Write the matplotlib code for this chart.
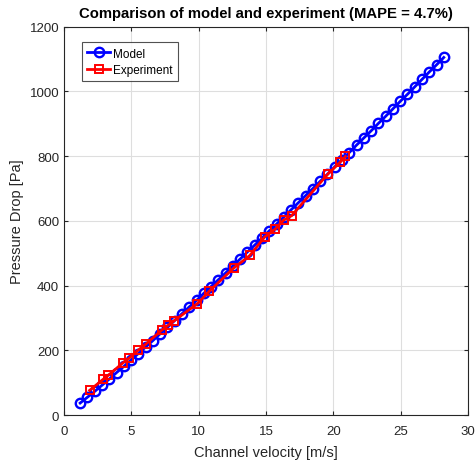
import matplotlib
matplotlib.use("Agg")
from matplotlib import pyplot as plt

# model curve
model_v = [1.20, 1.74, 2.28, 2.82, 3.36, 3.90, 4.44, 4.98, 5.52, 6.06,
           6.60, 7.14, 7.68, 8.22, 8.76, 9.30, 9.84, 10.38, 10.92, 11.46,
           12.00, 12.54, 13.08, 13.62, 14.16, 14.70, 15.24, 15.78, 16.32, 16.86,
           17.40, 17.94, 18.48, 19.02, 19.56, 20.10, 20.64, 21.18, 21.72, 22.26,
           22.80, 23.34, 23.88, 24.42, 24.96, 25.50, 26.04, 26.58, 27.12, 27.66,
           28.20]
model_dp = [37, 55, 73, 92, 111, 131, 150, 170, 190, 210,
            230, 251, 271, 292, 313, 334, 354, 376, 397, 418,
            439, 461, 482, 504, 525, 547, 569, 590, 612, 634,
            656, 678, 700, 722, 744, 767, 789, 811, 834, 856,
            878, 901, 923, 946, 969, 991, 1014, 1037, 1060, 1082,
            1105]

# measured points
exp_v = [1.9, 2.9, 3.3, 4.4, 4.85, 5.5, 6.1, 7.25, 7.75, 8.2, 9.9,
         10.8, 12.6, 13.8, 14.9, 15.7, 16.3, 16.9, 19.6, 20.5, 20.9]
exp_dp = [76, 110, 123, 162, 176, 200, 220, 262, 278, 292, 344,
          383, 454, 493, 550, 575, 602, 616, 745, 781, 799]

xticks = [0, 5, 10, 15, 20, 25, 30]
yticks = [0, 200, 400, 600, 800, 1000, 1200]

plt.rcParams['font.family'] = ['Liberation Sans', 'DejaVu Sans']

fig = plt.figure(figsize=(4.75, 4.64), dpi=100)
ax = fig.add_axes([0.1347, 0.1034, 0.8506, 0.8369])

ax.plot(model_v, model_dp, color='#0000ff', linewidth=2, marker='o',
        markersize=6.8, markerfacecolor='none', markeredgewidth=1.7,
        label='Model')
ax.plot(exp_v, exp_dp, color='#ff0000', linewidth=2, marker='s',
        markersize=6, markerfacecolor='none', markeredgewidth=1.4,
        label='Experiment')

ax.set_xlim(0, 30)
ax.set_ylim(0, 1200)
ax.set_xticks(xticks)
ax.set_yticks(yticks)
ax.grid(True, color='#dedede', linewidth=0.8)
ax.set_axisbelow(True)
ax.tick_params(direction='in', length=3, top=True, right=True,
               labelsize=9.5, colors='#262626', width=0.8)
ax.tick_params(axis='x', pad=7)
for s in ax.spines.values():
    s.set_color('#262626')
    s.set_linewidth(0.8)

ax.set_xlabel('Channel velocity [m/s]', fontsize=10.5, color='#262626',
              labelpad=6)
ax.set_ylabel('Pressure Drop [Pa]', fontsize=10.5, color='#262626')
ax.set_title('Comparison of model and experiment (MAPE = 4.7%)',
             fontsize=10.7, fontweight='bold', pad=7)

leg = ax.legend(loc='upper left', fontsize=8.5, frameon=True, fancybox=False,
                edgecolor='#262626', handlelength=1.9, handletextpad=0.3,
                borderpad=0.45, labelspacing=0.35,
                bbox_to_anchor=(0.03, 0.975))
leg.get_frame().set_linewidth(0.8)

fig.savefig('out.png', dpi=100)
